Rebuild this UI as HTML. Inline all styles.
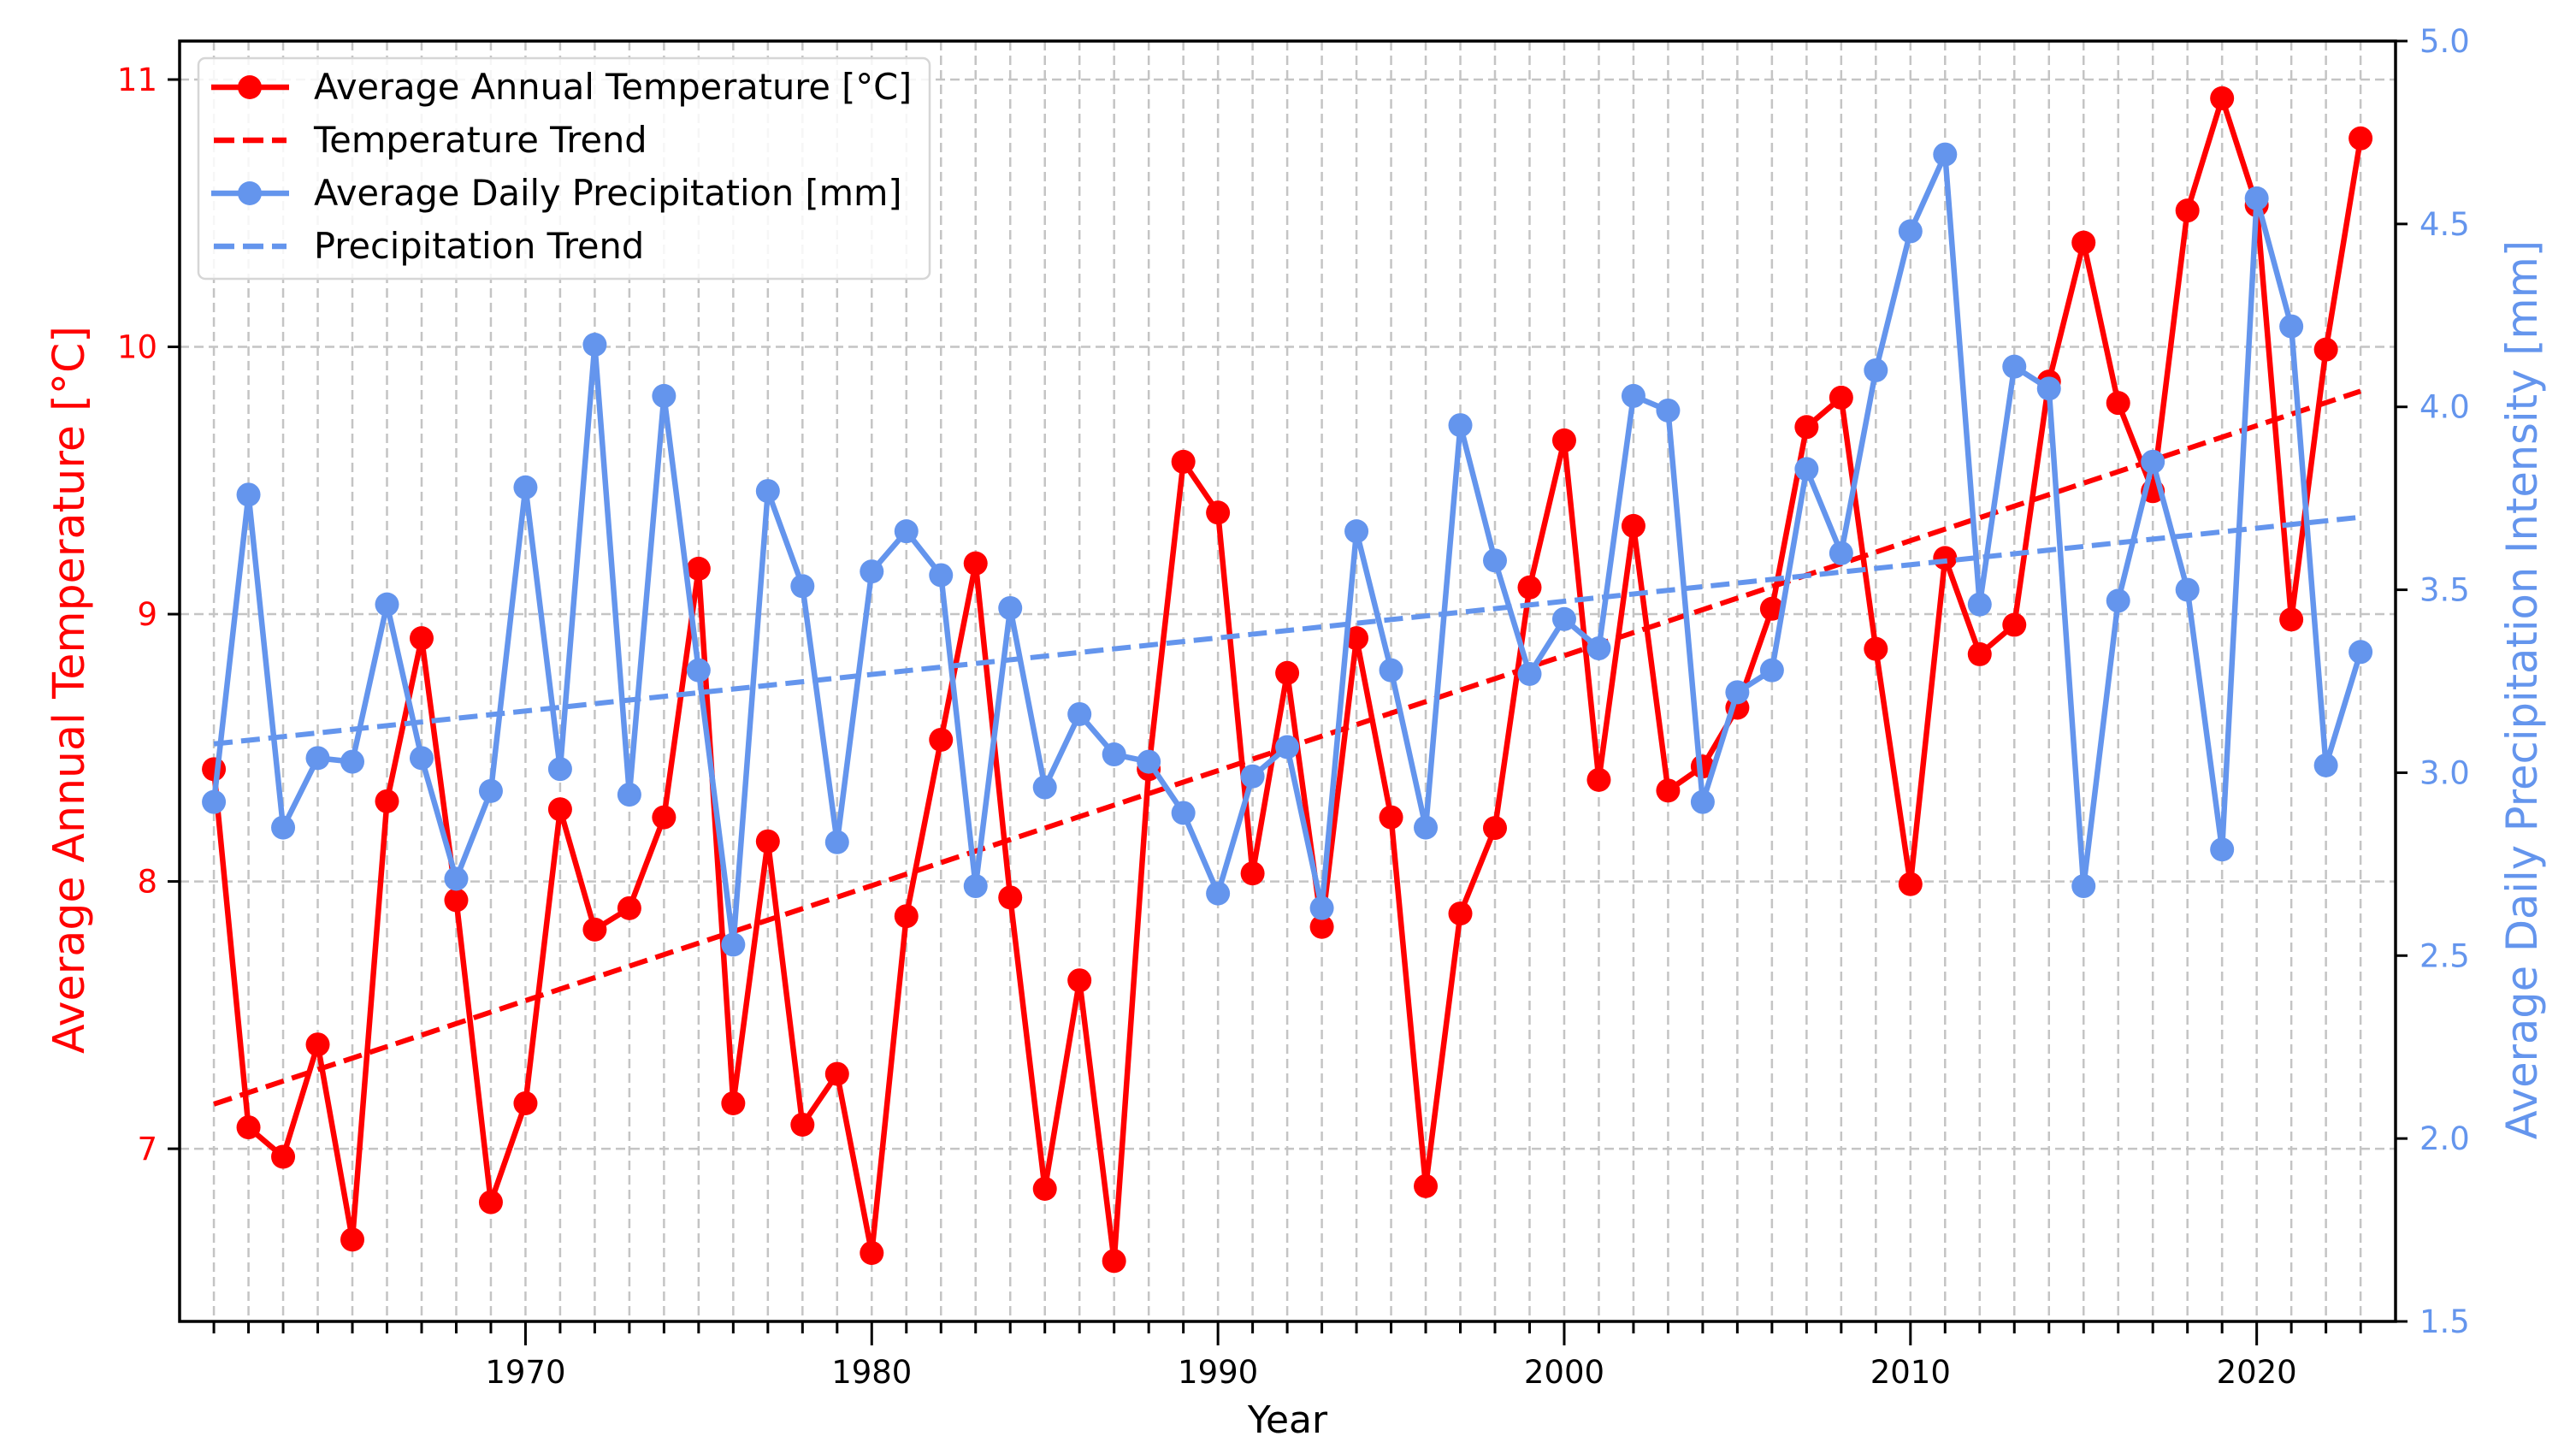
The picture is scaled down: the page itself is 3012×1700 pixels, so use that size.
<!DOCTYPE html>
<html><head><meta charset="utf-8"><style>
html,body{margin:0;padding:0;background:#fff;}
svg{display:block;font-family:"DejaVu Sans","Liberation Sans",sans-serif;}
</style></head><body>
<svg id="chart" width="3012" height="1700" viewBox="0 0 3012 1700" xmlns="http://www.w3.org/2000/svg"></svg>
<script>
const years = [];
for (let y = 1961; y <= 2023; y++) years.push(y);
const temperature = [8.42,7.08,6.97,7.39,6.66,8.30,8.91,7.93,6.80,7.17,8.27,7.82,7.90,8.24,9.17,7.17,8.15,7.09,7.28,6.61,7.87,8.53,9.19,7.94,6.85,7.63,6.58,8.42,9.57,9.38,8.03,8.78,7.83,8.91,8.24,6.86,7.88,8.20,9.10,9.65,8.38,9.33,8.34,8.43,8.65,9.02,9.70,9.81,8.87,7.99,9.21,8.85,8.96,9.87,10.39,9.79,9.46,10.51,10.93,10.53,8.98,9.99,10.78];
const precipitation = [2.92,3.76,2.85,3.04,3.03,3.46,3.04,2.71,2.95,3.78,3.01,4.17,2.94,4.03,3.28,2.53,3.77,3.51,2.81,3.55,3.66,3.54,2.69,3.45,2.96,3.16,3.05,3.03,2.89,2.67,2.99,3.07,2.63,3.66,3.28,2.85,3.95,3.58,3.27,3.42,3.34,4.03,3.99,2.92,3.22,3.28,3.83,3.60,4.10,4.48,4.69,3.46,4.11,4.05,2.69,3.47,3.85,3.50,2.79,4.57,4.22,3.02,3.33];
const tempTicks = [7, 8, 9, 10, 11];
const precipTicks = ["1.5","2.0","2.5","3.0","3.5","4.0","4.5","5.0"];
const yearTicks = [1970, 1980, 1990, 2000, 2010, 2020];

const L=210, R=2801, T=48, B=1545;
const X0=1960.01, X1=2024.01, TY0=6.354, TY1=11.144, PY0=1.5, PY1=5.0;
const x = v => L + (v - X0) / (X1 - X0) * (R - L);
const yt = v => B - (v - TY0) / (TY1 - TY0) * (B - T);
const yp = v => B - (v - PY0) / (PY1 - PY0) * (B - T);
const RED = "#ff0000", BLUE = "#6495ed";
const svg = document.getElementById('chart');
const NS = "http://www.w3.org/2000/svg";
function el(tag, attrs, parent) {
  const e = document.createElementNS(NS, tag);
  for (const k in attrs) e.setAttribute(k, attrs[k]);
  (parent || svg).appendChild(e);
  return e;
}
function fit(xs, ys) {
  const n = xs.length; let sx=0, sy=0, sxx=0, sxy=0;
  for (let i=0;i<n;i++){sx+=xs[i];sy+=ys[i];sxx+=xs[i]*xs[i];sxy+=xs[i]*ys[i];}
  const m = (n*sxy - sx*sy)/(n*sxx - sx*sx); return [m, (sy - m*sx)/n];
}
const grid = el('g', {});


years.forEach(yr => {
  const g = el('line', {x1:x(yr), x2:x(yr), y1:T, y2:B, stroke:"#c4c4c4", 'stroke-width':2.5, 'stroke-dasharray':"11,6"}, grid);
  
  
});
tempTicks.forEach(v => {
  const g = el('line', {x1:L, x2:R, y1:yt(v), y2:yt(v), stroke:"#c4c4c4", 'stroke-width':2.5, 'stroke-dasharray':"11,6"}, grid);
  
  
});
const [mt, bt] = fit(years, temperature);
const [mp, bp] = fit(years, precipitation);
const y0 = years[0], yN = years[years.length-1];
const tt = el('line', {x1:x(y0), x2:x(yN), y1:yt(mt*y0+bt), y2:yt(mt*yN+bt), stroke:RED, 'stroke-width':6, 'stroke-dasharray':"22,10"});


function series(vals, yf, color, name) {
  const g = el('g', {});
  
  
  const p = el('polyline', {points: vals.map((v,i)=>x(years[i])+","+yf(v)).join(" "), fill:"none", stroke:color, 'stroke-width':6.5, 'stroke-linejoin':"round"}, g);
  
  
  vals.forEach((v,i) => {
    const c = el('circle', {cx:x(years[i]), cy:yf(v), r:14, fill:color}, g);
    
    
  });
}
series(temperature, yt, RED, 'temperature-series');
series(precipitation, yp, BLUE, 'precipitation-series');
const pt = el('line', {x1:x(y0), x2:x(yN), y1:yp(mp*y0+bp), y2:yp(mp*yN+bp), stroke:BLUE, 'stroke-width':6, 'stroke-dasharray':"22,10"});


const fr = el('rect', {x:L, y:T, width:R-L, height:B-T, fill:"none", stroke:"#000", 'stroke-width':3.5});


years.forEach(yr => {
  const major = yearTicks.includes(yr);
  const t = el('line', {x1:x(yr), x2:x(yr), y1:B, y2:B+(major?28:14), stroke:"#000", 'stroke-width':3});
  
  
});
yearTicks.forEach(yr => {
  const t = el('text', {x:x(yr), y:B+72, 'font-size':37, 'text-anchor':"middle", fill:"#000"});
  t.textContent = yr;
  
  
});
tempTicks.forEach(v => {
  const t = el('line', {x1:L-14, x2:L, y1:yt(v), y2:yt(v), stroke:"#000", 'stroke-width':3});
  
  
  const l = el('text', {x:L-26, y:yt(v)+13, 'font-size':37, 'text-anchor':"end", fill:RED});
  l.textContent = v;
  
  
});
precipTicks.forEach(s => {
  const v = parseFloat(s);
  const t = el('line', {x1:R, x2:R+14, y1:yp(v), y2:yp(v), stroke:"#000", 'stroke-width':3});
  
  
  const l = el('text', {x:R+28, y:yp(v)+13, 'font-size':37, 'text-anchor':"start", fill:BLUE});
  l.textContent = s;
  
  
});
const xt = el('text', {x:(L+R)/2, y:1675, 'font-size':44, 'text-anchor':"middle", fill:"#000"});
xt.textContent = "Year";


const lt = el('text', {x:0, y:0, 'font-size':50.5, 'text-anchor':"middle", fill:RED, transform:`translate(98,${(T+B)/2+10}) rotate(-90)`});
lt.textContent = "Average Annual Temperature [°C]";


const rt = el('text', {x:0, y:0, 'font-size':49.5, 'text-anchor':"middle", fill:BLUE, transform:`translate(2966,${(T+B)/2+10}) rotate(-90)`});
rt.textContent = "Average Daily Precipitation Intensity [mm]";


const lg = el('g', {});


el('rect', {x:232, y:68, width:855, height:258, rx:8, fill:"#fff", 'fill-opacity':0.85, stroke:"#d6d6d6", 'stroke-width':2.5}, lg);
const entries = [["Average Annual Temperature [°C]", RED, false],["Temperature Trend", RED, true],["Average Daily Precipitation [mm]", BLUE, false],["Precipitation Trend", BLUE, true]];
entries.forEach((e, i) => {
  const yy = 102 + i*62;
  const g = el('g', {}, lg);
  
  
  if (e[2]) el('line', {x1:250, x2:335, y1:yy, y2:yy, stroke:e[1], 'stroke-width':6.5, 'stroke-dasharray':"24,10"}, g);
  else { el('line', {x1:247, x2:338, y1:yy, y2:yy, stroke:e[1], 'stroke-width':6.5}, g); el('circle', {cx:292, cy:yy, r:14, fill:e[1]}, g); }
  const t = el('text', {x:367, y:yy+14, 'font-size':41.5, fill:"#000"}, g);
  t.textContent = e[0];
});
</script>
</body></html>
